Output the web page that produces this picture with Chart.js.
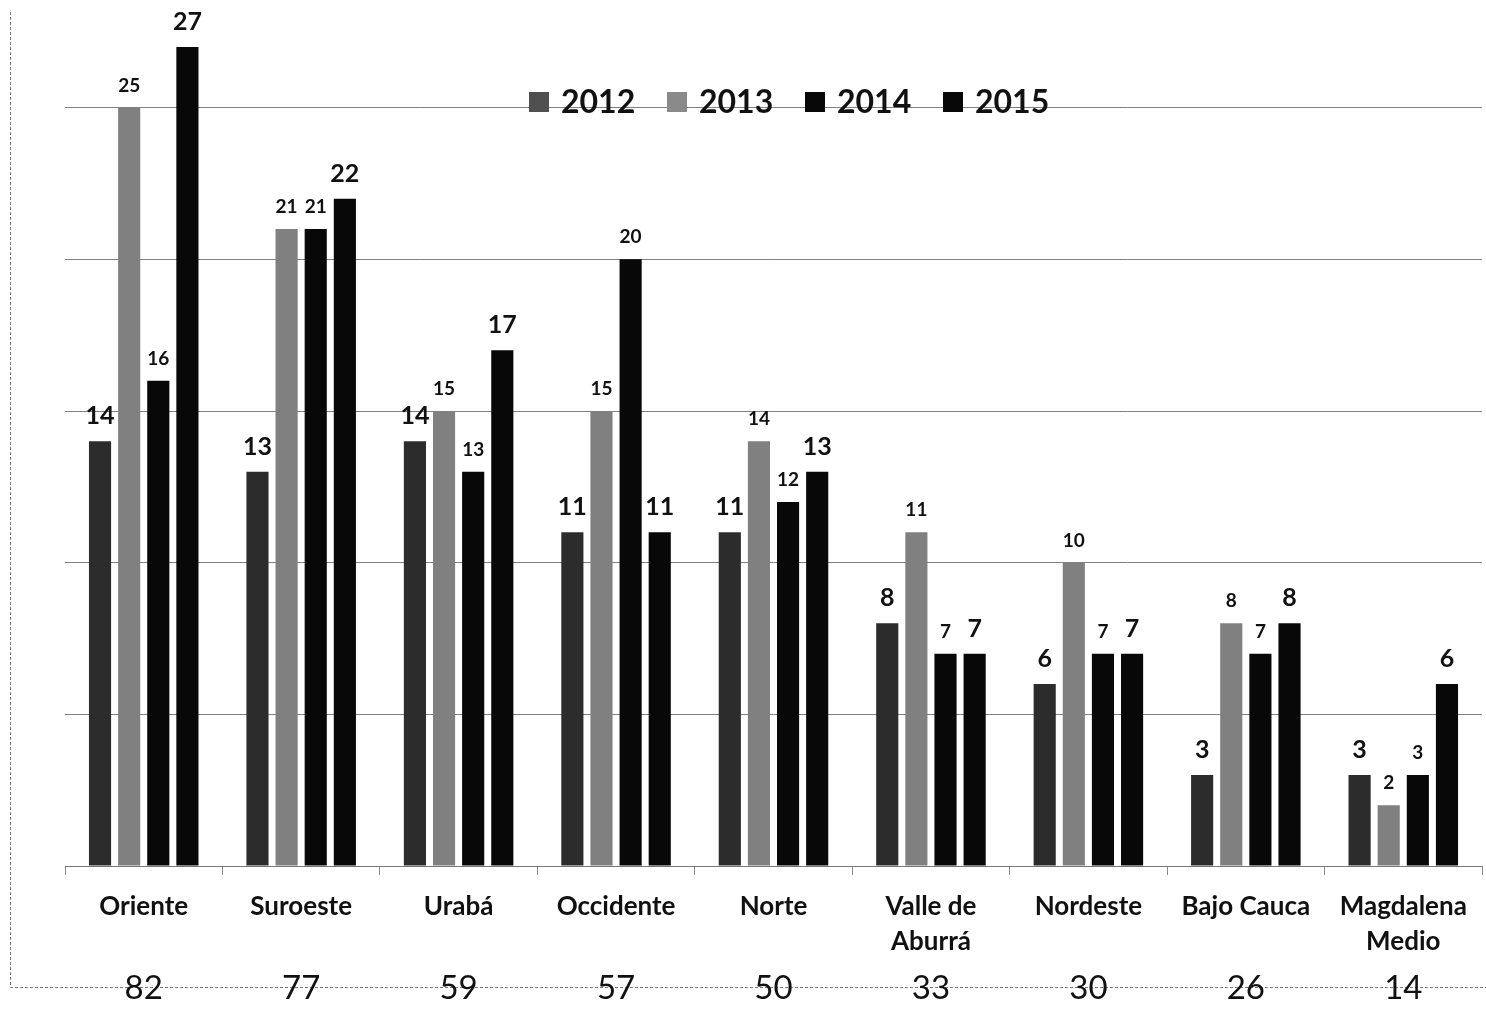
<!DOCTYPE html>
<html>
<head>
<meta charset="utf-8">
<script src="https://cdn.jsdelivr.net/npm/chart.js@4.4.1/dist/chart.umd.min.js"></script>
<style>
  html, body { margin: 0; padding: 0; background: #fff; }
  #grafico { display: block; }
</style>
</head>
<body>
<canvas id="grafico" width="1486" height="1013"></canvas>
<script>
// --- DATOS ---
const subregiones = ["Oriente", "Suroeste", "Urabá", "Occidente", "Norte",
  ["Valle de", "Aburrá"], "Nordeste", "Bajo Cauca", ["Magdalena", "Medio"]];
const anios = ["2012", "2013", "2014", "2015"];
const casos2012 = [14, 13, 14, 11, 11, 8, 6, 3, 3];
const casos2013 = [25, 21, 15, 15, 14, 11, 10, 8, 2];
const casos2014 = [16, 21, 13, 20, 12, 7, 7, 7, 3];
const casos2015 = [27, 22, 17, 11, 13, 7, 7, 8, 6];
const totales = [82, 77, 59, 57, 50, 33, 30, 26, 14];
const ticksY = [0, 5, 10, 15, 20, 25];

const colores = ["#2c2c2c", "#808080", "#080808", "#080808"];
const fuente = "Lato, 'Open Sans', sans-serif";

// --- PLUGIN: etiquetas, leyenda y fila de totales ---
const extras = {
  id: "extras",
  afterDatasetsDraw(chart) {
    const ctx = chart.ctx;
    ctx.save();
    ctx.fillStyle = "#111";
    ctx.textAlign = "center";
    ctx.textBaseline = "alphabetic";
    chart.data.datasets.forEach((ds, i) => {
      const grande = i === 0 || i === 3;
      ctx.font = "bold " + (grande ? 25 : 19) + "px " + fuente;
      chart.getDatasetMeta(i).data.forEach((bar, j) => {
        ctx.fillText(ds.data[j], bar.x, bar.y - (grande ? 17 : 16));
      });
    });

    // leyenda
    const leyX = [529, 667, 805, 943];
    ctx.textAlign = "left";
    ctx.textBaseline = "middle";
    ctx.font = "bold 32px " + fuente;
    anios.forEach((a, i) => {
      ctx.fillStyle = i === 0 ? "#505050" : i === 1 ? "#8a8a8a" : colores[i];
      ctx.fillRect(leyX[i], 92, 20, 20);
      ctx.fillStyle = "#111";
      ctx.fillText(a, leyX[i] + 32, 103);
    });

    // marco y totales
    ctx.strokeStyle = "#777";
    ctx.lineWidth = 1;
    ctx.setLineDash([3, 2]);
    ctx.beginPath();
    ctx.moveTo(10.5, 12);
    ctx.lineTo(10.5, 987.5);
    ctx.lineTo(1486, 987.5);
    ctx.stroke();
    ctx.setLineDash([]);
    ctx.textAlign = "center";
    ctx.font = "33px " + fuente;
    ctx.fillStyle = "#111";
    const xScale = chart.scales.x;
    totales.forEach((t, i) => {
      ctx.fillText(t, xScale.getPixelForValue(i), 988);
    });
    ctx.restore();
  },
};

const ctx = document.getElementById("grafico").getContext("2d");
const grafico = new Chart(ctx, {
  type: "bar",
  data: {
    labels: subregiones,
    datasets: [
      { label: anios[0], data: casos2012, backgroundColor: colores[0] },
      { label: anios[1], data: casos2013, backgroundColor: colores[1] },
      { label: anios[2], data: casos2014, backgroundColor: colores[2] },
      { label: anios[3], data: casos2015, backgroundColor: colores[3] },
    ],
  },
  options: {
    responsive: false,
    animation: false,
    layout: { padding: { left: 65, right: 4, top: 47, bottom: 0 } },
    datasets: { bar: { categoryPercentage: 0.74, barPercentage: 0.76 } },
    plugins: { legend: { display: false }, tooltip: { enabled: false } },
    scales: {
      y: {
        min: 0,
        max: 27,
        ticks: { display: false },
        afterBuildTicks: (s) => { s.ticks = ticksY.map((v) => ({ value: v })); },
        afterFit: (s) => { s.width = 0; },
        grid: { color: "#808080", drawTicks: false },
        border: { display: false },
      },
      x: {
        afterFit: (s) => { s.height = 147; },
        grid: { drawOnChartArea: false, drawTicks: true, tickLength: 9, color: "#888", offset: true },
        border: { color: "#777" },
        ticks: {
          color: "#111",
          padding: 14,
          maxRotation: 0,
          autoSkip: false,
          font: { family: fuente, size: 26, weight: "bold", lineHeight: 1.35 },
        },
      },
    },
  },
  plugins: [extras],
});
</script>
</body>
</html>
